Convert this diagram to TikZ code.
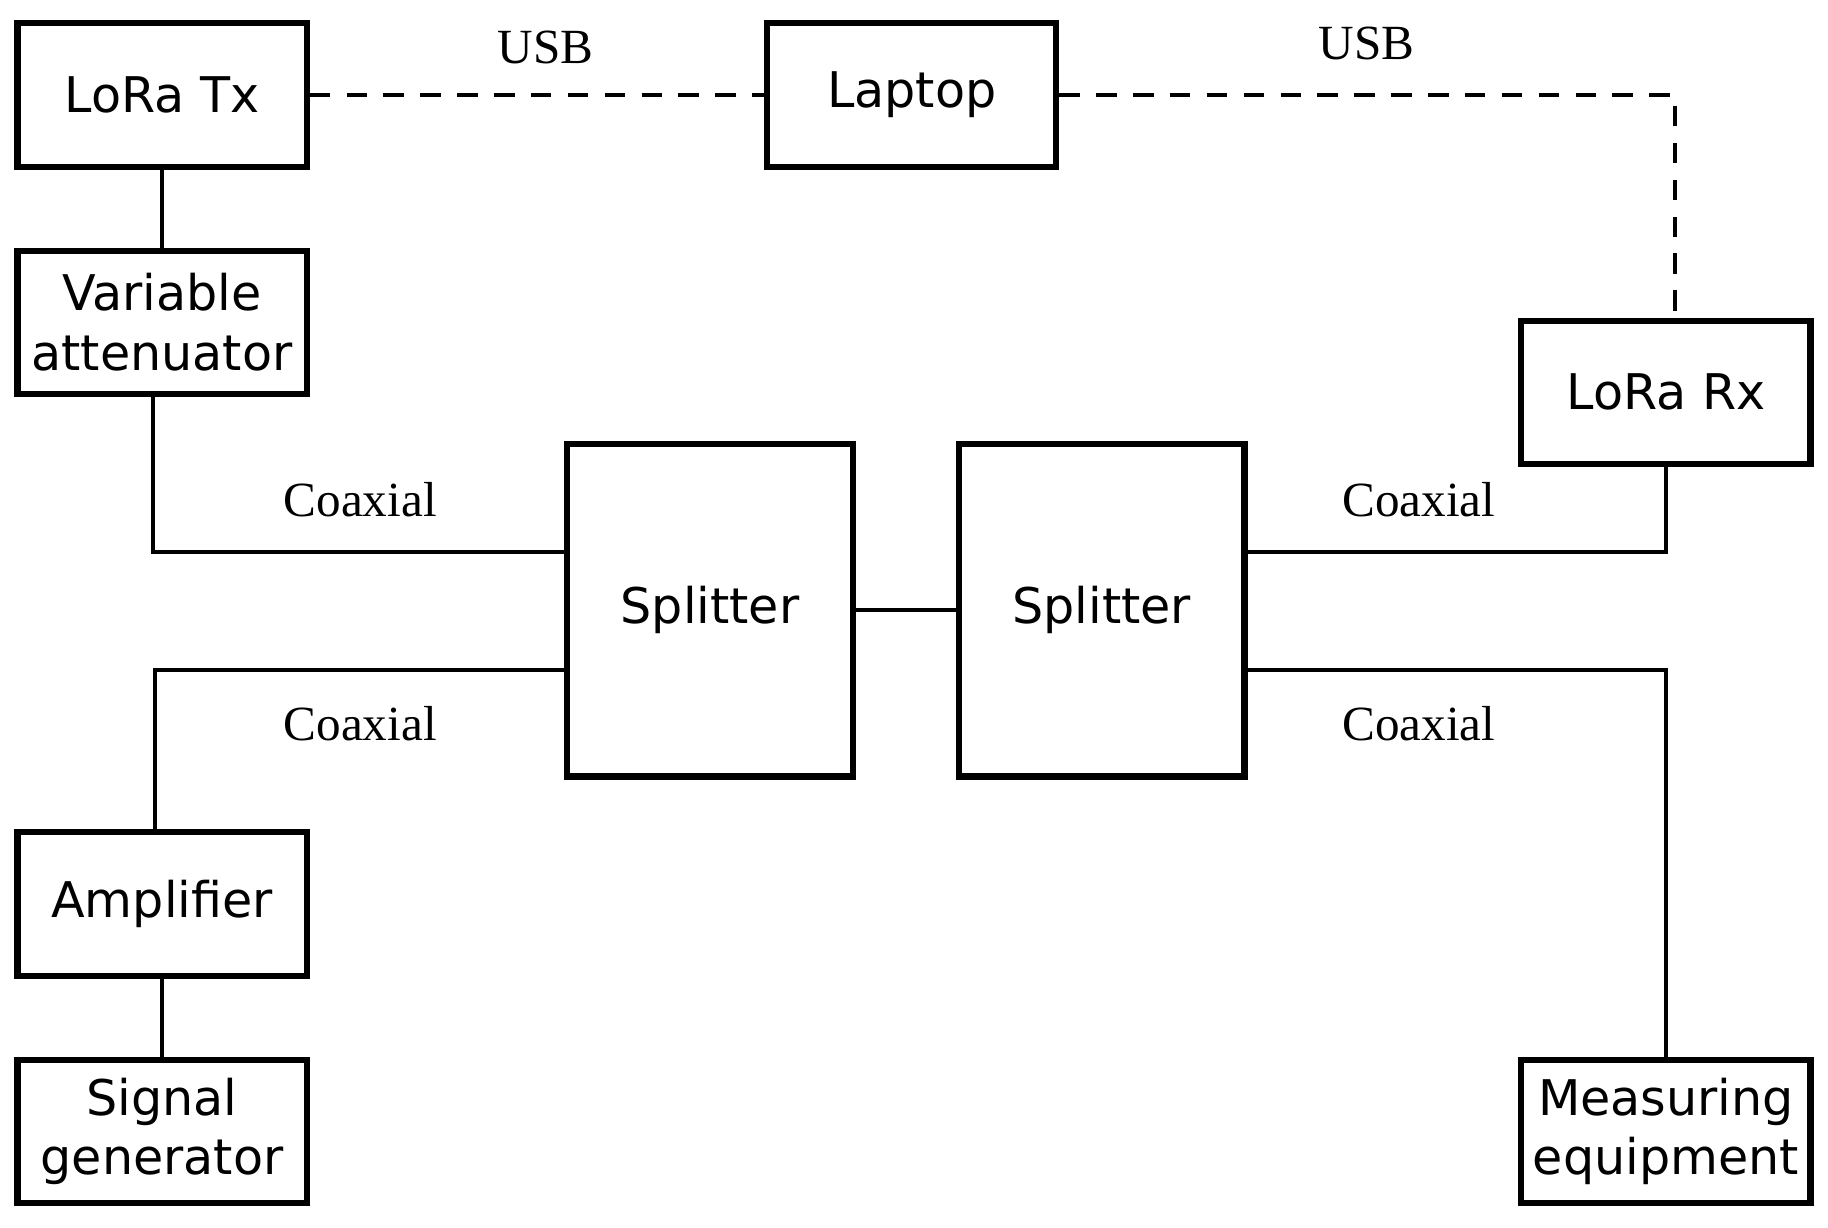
\documentclass[tikz,border=0pt]{standalone}
\usepackage{fontspec}
\setmainfont{DejaVu Sans}
\newfontfamily\lbl{Liberation Serif}
\begin{document}
\begin{tikzpicture}[
	blk/.style={draw, line width=1.5pt, minimum width=2.48cm, minimum height=1.23cm, align=center, inner sep=0pt, font=\fontsize{12}{14.5}\selectfont},
	split/.style={blk, minimum width=2.45cm, minimum height=2.85cm},
	wire/.style={line width=0.9pt},
	usb/.style={line width=0.9pt, dashed, dash pattern=on 5pt off 4pt},
	lab/.style={font=\lbl\fontsize{12}{14}\selectfont}
	]
		\useasboundingbox (0,0) rectangle (15.68,10.525);
		
		\node[blk] (tx) at (1.39,9.71) {LoRa Tx};
		\node[blk] (att) at (1.39,7.76) {Variable\\attenuator};
		\node[blk] (pc) at (7.82,9.71) {Laptop};
		\node[blk] (rx) at (14.29,7.16) {LoRa Rx};
		\node[split] (spa) at (6.09,5.29) {Splitter};
		\node[split] (spb) at (9.45,5.29) {Splitter};
		\node[blk] (amp) at (1.39,2.77) {Amplifier};
		\node[blk] (gen) at (1.39,0.82) {Signal\\generator};
		\node[blk] (meas) at (14.29,0.82) {Measuring\\equipment};
		
		\coordinate (c1) at (1.31,5.79);
		\coordinate (c2) at (1.33,4.78);
		\coordinate (c3) at (14.37,9.71);
		
		\draw[wire] (tx) -- (att);
		\draw[wire] (amp) -- (gen);
		\draw[wire] (spa) -- (spb);
		\draw[wire] (att.south -| c1) -- (c1) -- (c1 -| spa.west);
		\draw[wire] (amp.north -| c2) -- (c2) -- (c2 -| spa.west);
		\draw[wire] (rx.south) |- (c1 -| spb.east);
		\draw[wire] (meas.north) |- (c2 -| spb.east);
		\draw[usb] (tx) -- (pc);
		\draw[usb] (pc.east) -- (c3) -- (c3 |- rx.north);
		
		\node[lab] (usba) at (4.68,10.12) {USB};
		\node[lab] (usbb) at (11.72,10.15) {USB};
		\node[lab] (coa) at (3.09,6.24) {Coaxial};
		\node[lab] (cob) at (3.09,4.32) {Coaxial};
		\node[lab] (coc) at (12.17,6.24) {Coaxial};
		\node[lab] (cod) at (12.17,4.32) {Coaxial};
\end{tikzpicture}
\end{document}
